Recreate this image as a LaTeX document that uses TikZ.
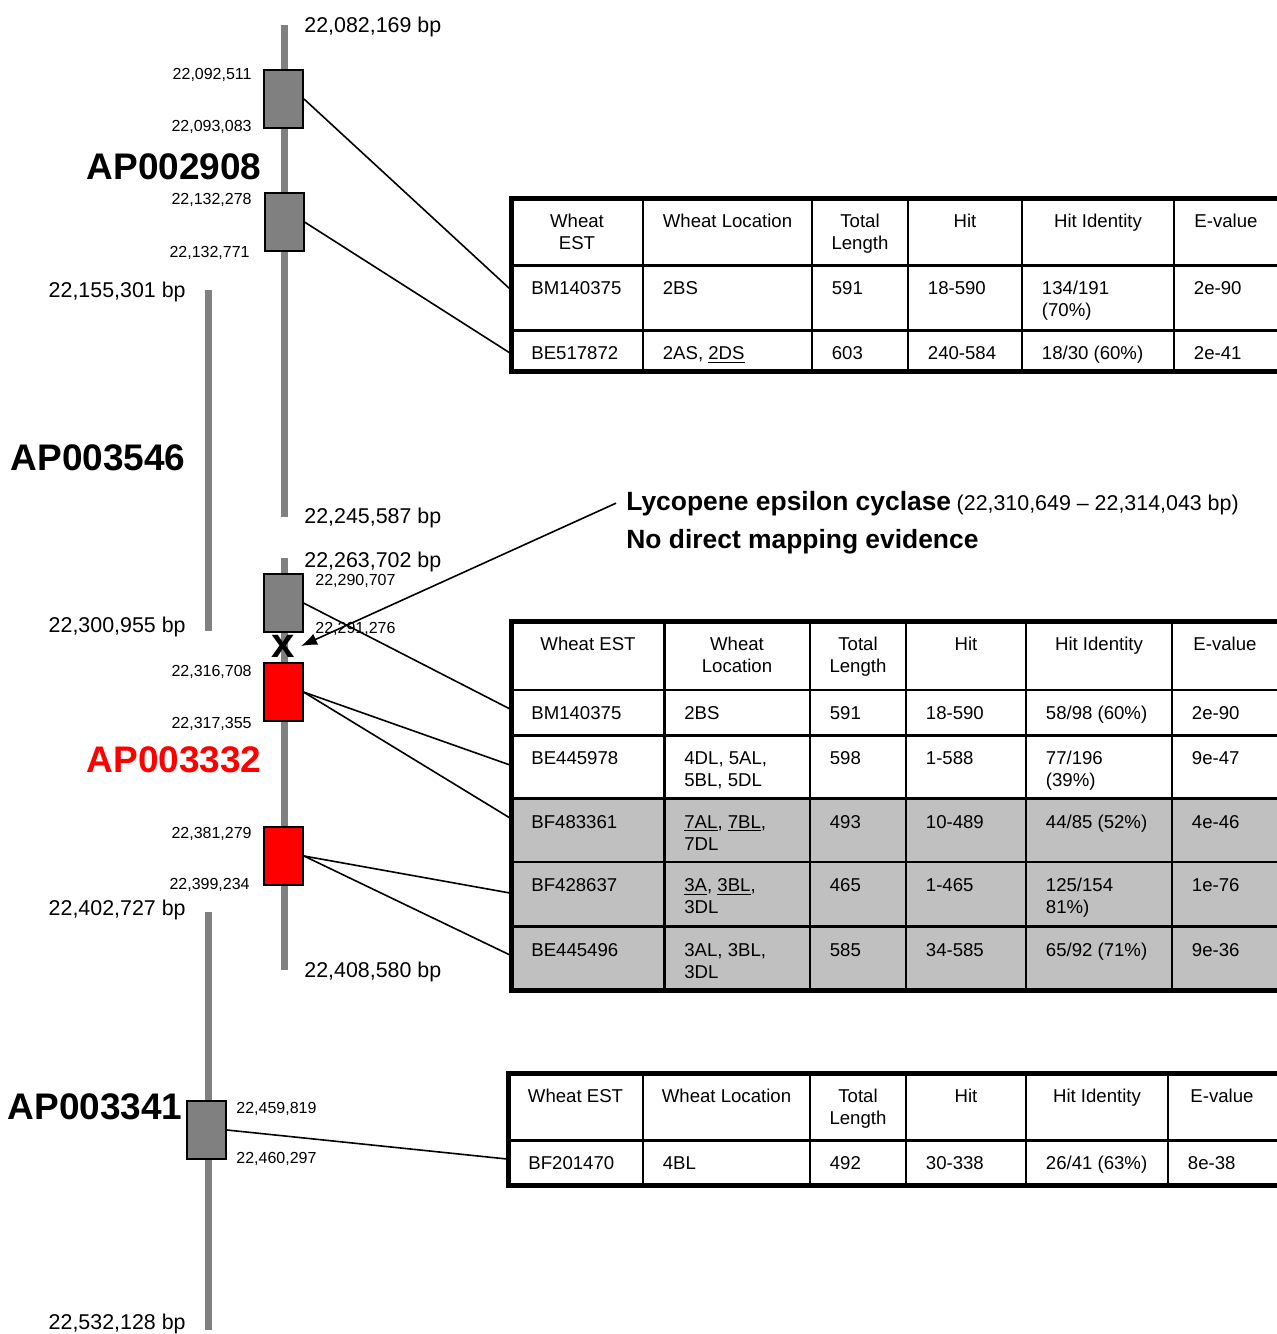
\documentclass[tikz,border=0pt]{standalone}
\usepackage{fontspec}
\setmainfont{Liberation Sans}
\usepackage{tikz}
\usetikzlibrary{arrows.meta,positioning}
\definecolor{chrom}{RGB}{128,128,128}
\definecolor{rowgray}{RGB}{192,192,192}
\definecolor{hit}{RGB}{255,0,0}
\tikzstyle{bar} = [draw=chrom, line width=3.5pt]
\tikzstyle{gene} = [rectangle, draw=black, line width=1pt, fill=chrom, minimum width=19.5pt, minimum height=29pt, inner sep=0pt]
\tikzstyle{redgene} = [gene, fill=hit]
\tikzstyle{bp} = [inner sep=0pt, font=\fontsize{10.7}{12}\selectfont]
\tikzstyle{coord} = [inner sep=0pt, font=\fontsize{8}{9}\selectfont]
\tikzstyle{contig} = [inner sep=0pt, font=\bfseries\fontsize{18.5}{20}\selectfont]
\tikzstyle{thead} = [inner sep=0pt, anchor=base, align=center, font=\fontsize{9.3}{11}\selectfont]
\tikzstyle{cell} = [inner sep=0pt, anchor=base west, align=left, font=\fontsize{9.3}{11}\selectfont]
\tikzstyle{twoline} = [yshift=-11pt]
\tikzstyle{tframe} = [draw, line width=2.5pt]
\tikzstyle{tline} = [draw, line width=1.2pt]
\tikzstyle{link} = [draw, line width=0.8pt]
\tikzstyle{arr} = [draw, line width=0.8pt, -{Latex[length=8pt,width=6pt]}]

\begin{document}
\begin{tikzpicture}[x=0.5pt, y=-0.5pt]
\useasboundingbox (0,0) rectangle (1276,1334);

% chromosome bars =============================
\draw[bar] (284,25) -- (284,517);
\draw[bar] (284,558) -- (284,970);
\draw[bar] (208,290) -- (208,631);
\draw[bar] (208,912) -- (208,1330);

% genes
\node[gene] (g1) at (283.5,99) {};
\node[gene] (g2) at (284,222) {};
\node[gene] (g3) at (283,603) {};
\node[redgene] (g4) at (283,692) {};
\node[redgene] (g5) at (283.5,856) {};
\node[gene] (g6) at (206.5,1130) {};
\node[font=\bfseries\fontsize{21}{21}\selectfont, inner sep=3pt] (xm) at (283,646) {x};

% contig names
\node[contig, anchor=base east] (ap1) at (262,179) {AP002908};
\node[contig, anchor=base east] (ap2) at (186,470) {AP003546};
\node[contig, anchor=base east, text=hit] (ap3) at (262,772) {AP003332};
\node[contig, anchor=base east] (ap4) at (183,1119) {AP003341};

% ends of the contigs
\node[bp, anchor=base west] (s1) at (304,32) {22,082,169 bp};
\node[bp, anchor=base east] (s2) at (186,297) {22,155,301 bp};
\node[bp, anchor=base west] (s3) at (304,523) {22,245,587 bp};
\node[bp, anchor=base west] (s4) at (304,567) {22,263,702 bp};
\node[bp, anchor=base east] (s5) at (186,632) {22,300,955 bp};
\node[bp, anchor=base east] (s6) at (186,915) {22,402,727 bp};
\node[bp, anchor=base west] (s7) at (304,977) {22,408,580 bp};
\node[bp, anchor=base east] (s8) at (186,1329) {22,532,128 bp};

% gene positions
\node[coord, anchor=base east] (p1) at (252,79) {22,092,511};
\node[coord, anchor=base east] (p2) at (252,131.5) {22,093,083};
\node[coord, anchor=base east] (p3) at (252,204) {22,132,278};
\node[coord, anchor=base east] (p4) at (250,257) {22,132,771};
\node[coord, anchor=base west] (p5) at (315,585) {22,290,707};
\node[coord, anchor=base west] (p6) at (315,633) {22,291,276};
\node[coord, anchor=base east] (p7) at (252,676.5) {22,316,708};
\node[coord, anchor=base east] (p8) at (252,728) {22,317,355};
\node[coord, anchor=base east] (p9) at (252,838) {22,381,279};
\node[coord, anchor=base east] (p10) at (250,889) {22,399,234};
\node[coord, anchor=base west] (p11) at (236,1113) {22,459,819};
\node[coord, anchor=base west] (p12) at (236,1163) {22,460,297};

% lycopene note
\node[inner sep=0pt, anchor=base west] (lyc) at (626,510) {{\bfseries\fontsize{13.2}{15}\selectfont Lycopene epsilon cyclase} {\fontsize{10.7}{12}\selectfont (22,310,649 -- 22,314,043 bp)}};
\node[inner sep=0pt, anchor=base west, font=\bfseries\fontsize{13.2}{15}\selectfont] (nomap) at (626,548.5) {No direct mapping evidence};
\path[arr] ([xshift=-5pt]lyc.west) -- (xm.east);

% table 1 =============================
\draw[tline] (511.5,265.5) -- (1279,265.5) (511.5,330.5) -- (1279,330.5);
\draw[tline] (643,198) -- (643,371.5) (812,198) -- (812,371.5) (908,198) -- (908,371.5)
  (1022,198) -- (1022,371.5) (1174,198) -- (1174,371.5);
\draw[tframe] (511.5,198) rectangle (1280,371.5);
\node[thead, twoline] (t1h1) at (577,227) {Wheat\\EST};
\node[thead] (t1h2) at (727.5,227) {Wheat Location};
\node[thead, twoline] (t1h3) at (860,227) {Total\\Length};
\node[thead] (t1h4) at (965,227) {Hit};
\node[thead] (t1h5) at (1098,227) {Hit Identity};
\node[thead] (t1h6) at (1226,227) {E-value};
\node[cell] (t1a1) at (531,294.5) {BM140375};
\node[cell] (t1a2) at (662.5,294.5) {2BS};
\node[cell] (t1a3) at (831.5,294.5) {591};
\node[cell] (t1a4) at (927.5,294.5) {18-590};
\node[cell, twoline] (t1a5) at (1041.5,294.5) {134/191\\(70\%)};
\node[cell] (t1a6) at (1193.5,294.5) {2e-90};
\node[cell] (t1b1) at (531,359.5) {BE517872};
\node[cell] (t1b2) at (662.5,359.5) {2AS, \underline{2DS}};
\node[cell] (t1b3) at (831.5,359.5) {603};
\node[cell] (t1b4) at (927.5,359.5) {240-584};
\node[cell] (t1b5) at (1041.5,359.5) {18/30 (60\%)};
\node[cell] (t1b6) at (1193.5,359.5) {2e-41};

% table 2 =============================
\fill[rowgray] (511.5,798.5) rectangle (1279,990.5);
\draw[tline] (511.5,690) -- (1279,690) (511.5,735.5) -- (1279,735.5) (511.5,798.5) -- (1279,798.5)
  (511.5,862) -- (1279,862) (511.5,926.5) -- (1279,926.5);
\draw[tline] (664.5,621.5) -- (664.5,990.5) (810,621.5) -- (810,990.5) (906,621.5) -- (906,990.5)
  (1026,621.5) -- (1026,990.5) (1172,621.5) -- (1172,990.5);
\draw[tframe] (511.5,621.5) rectangle (1280,990.5);
\node[thead] (t2h1) at (588,650) {Wheat EST};
\node[thead, twoline] (t2h2) at (737,650) {Wheat\\Location};
\node[thead, twoline] (t2h3) at (858,650) {Total\\Length};
\node[thead] (t2h4) at (966,650) {Hit};
\node[thead] (t2h5) at (1099,650) {Hit Identity};
\node[thead] (t2h6) at (1225,650) {E-value};
\node[cell] (t2a1) at (531,719) {BM140375};
\node[cell] (t2a2) at (684,719) {2BS};
\node[cell] (t2a3) at (829.5,719) {591};
\node[cell] (t2a4) at (925.5,719) {18-590};
\node[cell] (t2a5) at (1045.5,719) {58/98 (60\%)};
\node[cell] (t2a6) at (1191.5,719) {2e-90};
\node[cell] (t2b1) at (531,764) {BE445978};
\node[cell, twoline] (t2b2) at (684,764) {4DL, 5AL,\\5BL, 5DL};
\node[cell] (t2b3) at (829.5,764) {598};
\node[cell] (t2b4) at (925.5,764) {1-588};
\node[cell, twoline] (t2b5) at (1045.5,764) {77/196\\(39\%)};
\node[cell] (t2b6) at (1191.5,764) {9e-47};
\node[cell] (t2c1) at (531,828) {BF483361};
\node[cell, twoline] (t2c2) at (684,828) {\underline{7AL}, \underline{7BL},\\7DL};
\node[cell] (t2c3) at (829.5,828) {493};
\node[cell] (t2c4) at (925.5,828) {10-489};
\node[cell] (t2c5) at (1045.5,828) {44/85 (52\%)};
\node[cell] (t2c6) at (1191.5,828) {4e-46};
\node[cell] (t2d1) at (531,891.5) {BF428637};
\node[cell, twoline] (t2d2) at (684,891.5) {\underline{3A}, \underline{3BL},\\3DL};
\node[cell] (t2d3) at (829.5,891.5) {465};
\node[cell] (t2d4) at (925.5,891.5) {1-465};
\node[cell, twoline] (t2d5) at (1045.5,891.5) {125/154\\81\%)};
\node[cell] (t2d6) at (1191.5,891.5) {1e-76};
\node[cell] (t2e1) at (531,956) {BE445496};
\node[cell, twoline] (t2e2) at (684,956) {3AL, 3BL,\\3DL};
\node[cell] (t2e3) at (829.5,956) {585};
\node[cell] (t2e4) at (925.5,956) {34-585};
\node[cell] (t2e5) at (1045.5,956) {65/92 (71\%)};
\node[cell] (t2e6) at (1191.5,956) {9e-36};

% table 3 =============================
\draw[tline] (508.5,1140.5) -- (1279,1140.5);
\draw[tline] (643,1073) -- (643,1185.5) (810,1073) -- (810,1185.5) (906,1073) -- (906,1185.5)
  (1026,1073) -- (1026,1185.5) (1168,1073) -- (1168,1185.5);
\draw[tframe] (508.5,1073) rectangle (1280,1185.5);
\node[thead] (t3h1) at (575.5,1102) {Wheat EST};
\node[thead] (t3h2) at (726.5,1102) {Wheat Location};
\node[thead, twoline] (t3h3) at (858,1102) {Total\\Length};
\node[thead] (t3h4) at (966,1102) {Hit};
\node[thead] (t3h5) at (1097,1102) {Hit Identity};
\node[thead] (t3h6) at (1222,1102) {E-value};
\node[cell] (t3a1) at (528,1169) {BF201470};
\node[cell] (t3a2) at (662.5,1169) {4BL};
\node[cell] (t3a3) at (829.5,1169) {492};
\node[cell] (t3a4) at (925.5,1169) {30-338};
\node[cell] (t3a5) at (1045.5,1169) {26/41 (63\%)};
\node[cell] (t3a6) at (1187.5,1169) {8e-38};

% links from genes to tables
\coordinate (e1) at (510,289);
\coordinate (e2) at (510,353);
\coordinate (e3) at (510,709);
\coordinate (e4) at (510,765);
\coordinate (e5) at (510,818);
\coordinate (e6) at (510,893);
\coordinate (e7) at (510,955);
\coordinate (e8) at (507,1159);
\path[link] (g1.east) -- (e1);
\path[link] (g2.east) -- (e2);
\path[link] (g3.east) -- (e3);
\path[link] (g4.east) -- (e4);
\path[link] (g4.east) -- (e5);
\path[link] (g5.east) -- (e6);
\path[link] (g5.east) -- (e7);
\path[link] (g6.east) -- (e8);

\end{tikzpicture}
\end{document}
